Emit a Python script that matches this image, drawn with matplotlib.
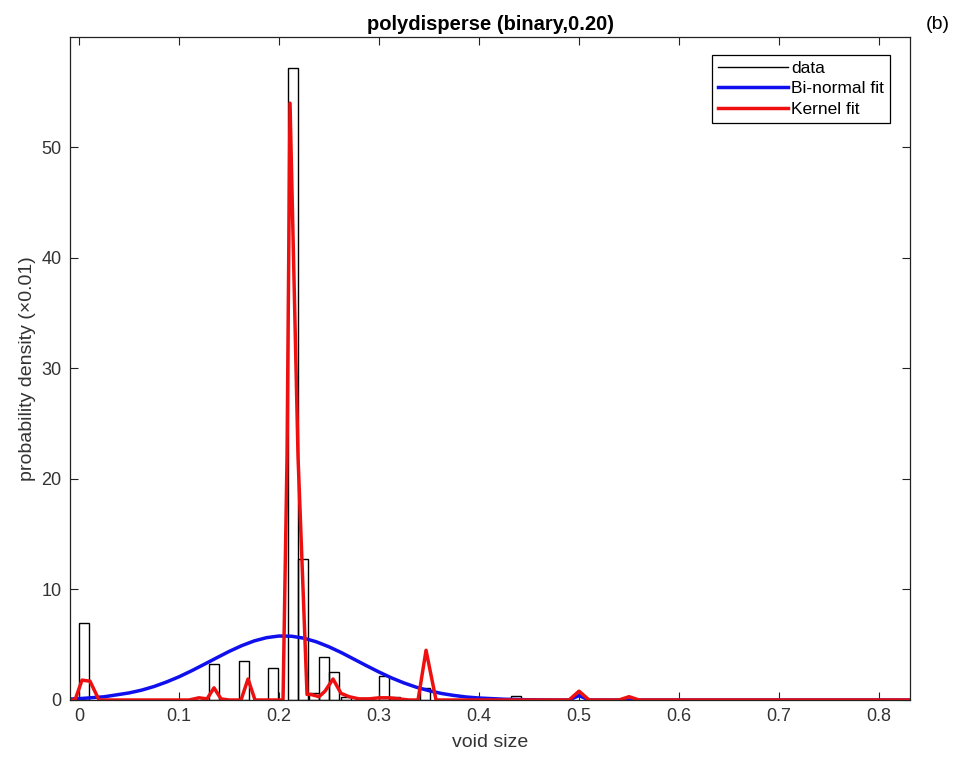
import matplotlib
matplotlib.use("Agg")
import matplotlib.pyplot as plt
from matplotlib.lines import Line2D

plt.rcParams['font.family'] = ['Liberation Sans', 'DejaVu Sans']

# histogram bars (left edge, height)
bar_left = [0.0, 0.130, 0.160, 0.189, 0.209, 0.219, 0.2295, 0.240, 0.250,
            0.262, 0.280, 0.300, 0.311, 0.341, 0.432]
bar_height = [7.0, 3.3, 3.5, 2.9, 57.2, 12.8, 0.6, 3.9, 2.5,
              0.3, 0.2, 2.2, 0.3, 1.1, 0.4]
bar_w = 0.0102

# bi-normal fit
blue_x = [-0.01, 0.0, 0.025, 0.05, 0.0625, 0.075, 0.0875, 0.1, 0.1125, 0.125,
          0.1375, 0.15, 0.1625, 0.175, 0.1875, 0.2, 0.2125, 0.225, 0.2375,
          0.25, 0.2625, 0.275, 0.2875, 0.3, 0.3125, 0.325, 0.3375, 0.35,
          0.3625, 0.375, 0.3875, 0.4, 0.425, 0.45, 0.475,
          0.49, 0.5, 0.51, 0.83]
blue_y = [0.08, 0.12, 0.29, 0.64, 0.89, 1.22, 1.63, 2.1, 2.64, 3.22,
          3.81, 4.39, 4.91, 5.34, 5.64, 5.79, 5.77, 5.59, 5.26,
          4.81, 4.28, 3.69, 3.10, 2.53, 2.0, 1.54, 1.15, 0.84,
          0.59, 0.41, 0.27, 0.18, 0.07, 0.02, 0.0,
          0.0, 0.4, 0.0, 0.0]

# kernel fit
red_x = [-0.01, -0.004, 0.003, 0.011, 0.02, 0.03, 0.11, 0.12, 0.128, 0.135,
         0.142, 0.15, 0.162, 0.169, 0.176, 0.185, 0.2, 0.204, 0.208, 0.211,
         0.219, 0.228, 0.232, 0.24, 0.246, 0.254, 0.262, 0.27, 0.28,
         0.29, 0.30, 0.31, 0.32, 0.33, 0.339, 0.347, 0.357, 0.365, 0.49, 0.5,
         0.51, 0.54, 0.55, 0.56, 0.83]
red_y = [0, 0, 1.8, 1.7, 0, 0, 0, 0.2, 0.1, 1.1,
         0.1, 0, 0, 1.9, 0, 0, 0, 0, 22, 54,
         22, 0.5, 0.5, 0.3, 0.8, 1.9, 0.6, 0.3, 0.1,
         0.1, 0.2, 0.2, 0.1, 0, 0, 4.5, 0, 0, 0, 0.8,
         0, 0, 0.3, 0, 0]

xticks = [0, 0.1, 0.2, 0.3, 0.4, 0.5, 0.6, 0.7, 0.8]
xticklabels = ['0', '0.1', '0.2', '0.3', '0.4', '0.5', '0.6', '0.7', '0.8']
yticks = [0, 10, 20, 30, 40, 50]

fig = plt.figure(figsize=(9.59, 7.57), dpi=100)
ax = fig.add_axes([0.073, 0.0753, 0.876, 0.876])

ax.bar(bar_left, bar_height, width=bar_w, align='edge', fill=False,
       edgecolor='black', linewidth=1.0)
ax.plot(blue_x, blue_y, color='#1010ee', linewidth=2.5)
ax.plot(red_x, red_y, color='#ee1010', linewidth=2.5)

ax.set_xlim(-0.009, 0.831)
ax.set_ylim(0, 60)
ax.set_xticks(xticks)
ax.set_xticklabels(xticklabels)
ax.set_yticks(yticks)
ax.tick_params(direction='in', top=True, right=True, length=6, width=0.8,
               labelsize=13, colors='#222222', labelcolor='#333333', pad=6)
for s in ax.spines.values():
    s.set_linewidth(0.9)
    s.set_color('#222222')

ax.set_xlabel('void size', fontsize=14, color='#333333', labelpad=6)
ax.set_ylabel('probability density (\u00d70.01)', fontsize=14, color='#333333',
              labelpad=4)
ax.set_title('polydisperse (binary,0.20)', fontsize=14.5, fontweight='bold', pad=5)
fig.text(0.978, 0.968, '(b)', fontsize=14, ha='center', va='center')

handles = [Line2D([], [], color='black', linewidth=1.0),
           Line2D([], [], color='#1010ee', linewidth=2.5),
           Line2D([], [], color='#ee1010', linewidth=2.5)]
leg = ax.legend(handles, ['data', 'Bi-normal fit', 'Kernel fit'],
                loc='upper right', bbox_to_anchor=(0.976, 0.973),
                fontsize=12.5, handlelength=4.0, handletextpad=0.2,
                labelspacing=0.3, borderpad=0.35, fancybox=False,
                framealpha=1, edgecolor='black', borderaxespad=0)
leg.get_frame().set_linewidth(0.9)

fig.savefig('out.png', dpi=100)
